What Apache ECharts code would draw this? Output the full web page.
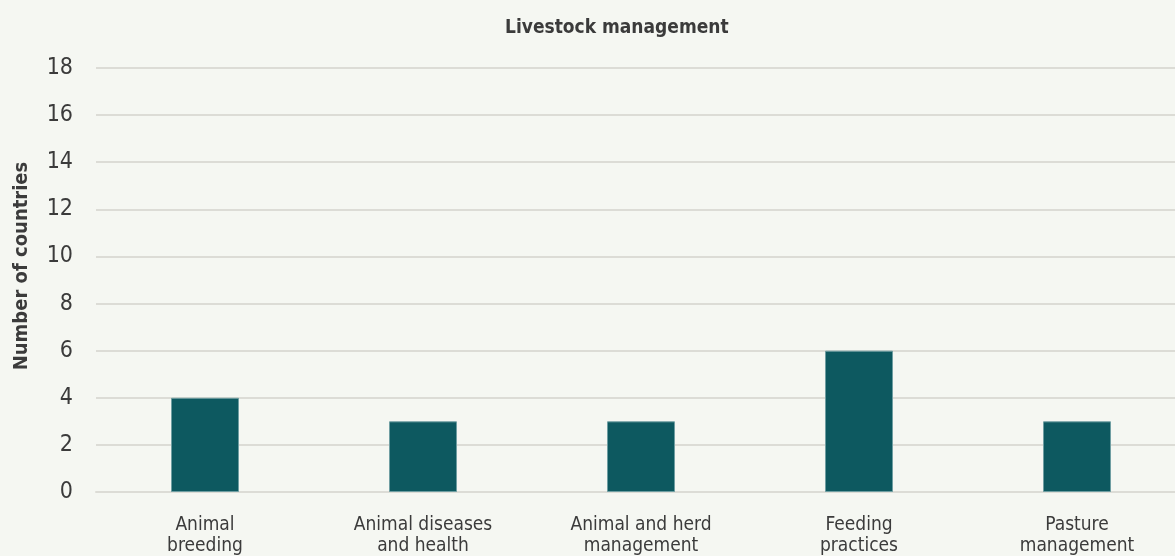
<!DOCTYPE html>
<html>
<head>
<meta charset="utf-8">
<script src="https://cdn.jsdelivr.net/npm/echarts@6/dist/echarts.min.js"></script>
<style>
  html,body{margin:0;padding:0;background:#f5f7f2;}
  #chart{width:1175px;height:556px;}
</style>
</head>
<body>
<div id="chart"></div>
<script>
var categories = ["Animal\nbreeding", "Animal diseases\nand health", "Animal and herd\nmanagement", "Feeding\npractices", "Pasture\nmanagement"];
var values = [4, 3, 3, 6, 3];
var yTicks = [0, 2, 4, 6, 8, 10, 12, 14, 16, 18];

var font = "'Liberation Sans Narrow', 'DejaVu Sans Condensed', sans-serif";
var textColor = "#3b3b3b";
var gridColor = "#dcdcd6";

var option = {
  backgroundColor: "#f5f7f2",
  textStyle: {fontFamily: font},
  title: {
    text: "Livestock management",
    left: 500,
    top: 14,
    textStyle: {fontFamily: font, fontSize: 19, fontWeight: "bold", color: textColor}
  },
  grid: {left: 96, right: -11, top: 68, bottom: 64, outerBoundsMode: "none"},
  xAxis: {
    type: "category",
    data: categories,
    axisLine: {lineStyle: {color: gridColor, width: 2}},
    axisTick: {show: false},
    axisLabel: {color: textColor, fontSize: 19, fontFamily: font, lineHeight: 21, margin: 23, interval: 0}
  },
  yAxis: {
    type: "value",
    min: yTicks[0],
    max: yTicks[yTicks.length - 1],
    interval: 2,
    name: "Number of countries",
    nameLocation: "middle",
    nameGap: 64,
    nameTextStyle: {color: textColor, fontSize: 20, fontWeight: "bold", fontFamily: font, padding: [0, 0, 0, 28]},
    axisLine: {show: false},
    axisTick: {show: false},
    axisLabel: {color: textColor, fontSize: 23, fontFamily: font, margin: 23},
    splitLine: {lineStyle: {color: gridColor, width: 2}}
  },
  series: [{
    type: "bar",
    data: values,
    barWidth: 68,
    itemStyle: {color: "#0d5960", borderColor: "#6f9ea2", borderWidth: 1}
  }]
};

var myChart = echarts.init(document.getElementById("chart"));
myChart.setOption(option);
</script>
</body>
</html>
